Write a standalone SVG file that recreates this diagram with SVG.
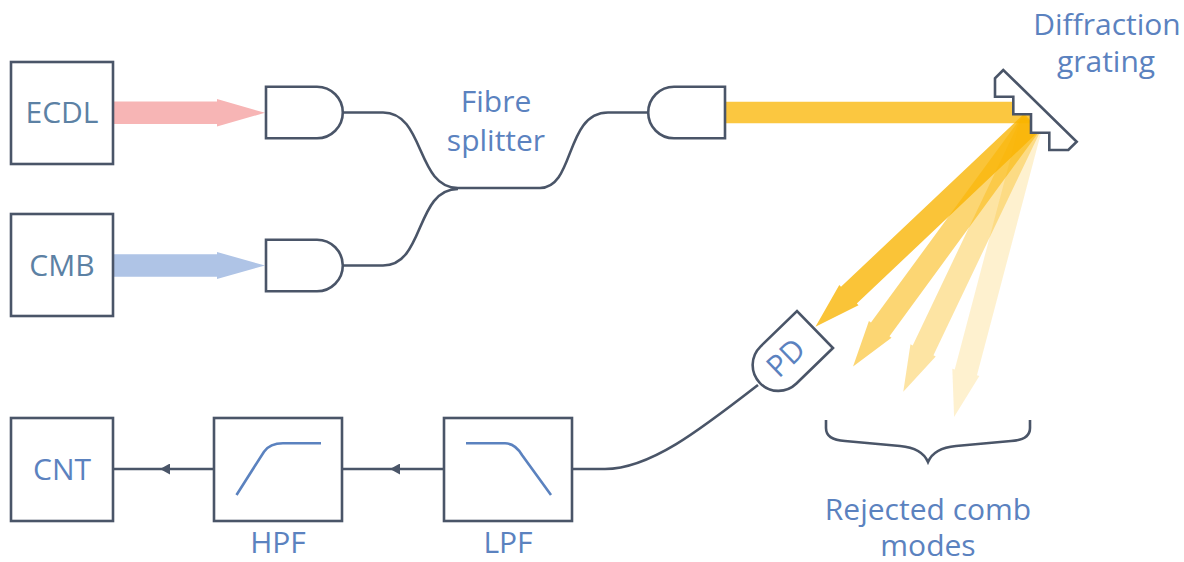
<svg xmlns="http://www.w3.org/2000/svg" xmlns:xlink="http://www.w3.org/1999/xlink" width="1184" height="562" viewBox="0 0 1184 562">
  <style>
    .box { fill: #ffffff; stroke: #4a5568; stroke-width: 2.6; }
    .wire { fill: none; stroke: #4a5568; stroke-width: 2.6; }
    .lbl { font-family: "Open Sans", "Liberation Sans", sans-serif; font-size: 30px; fill: #5b82bf; text-anchor: middle; }
    .src { fill: #5c81a4; }
    .resp { fill: none; stroke: #5b82bf; stroke-width: 2.6; }
    .beam { fill: #f9b400; }
  </style>
  <defs>
    <!-- fibre coupler / detector housing: flat face at x=0, rounded end at +x -->
    <path id="coupler" d="M0,-25.8 H51 A25.8,25.8 0 0 1 51,25.8 H0 Z"/>
    <marker id="tri" markerUnits="userSpaceOnUse" viewBox="0 0 10 11" markerWidth="10" markerHeight="11" refX="10" refY="5.5" orient="auto">
      <path d="M0,0 L10,5.5 L0,11 Z" fill="#4a5568"/>
    </marker>
  </defs>

  <rect width="1184" height="562" fill="#ffffff"/>

  <!-- free-space beams -->
  <g id="beams">
    <path id="beam-ecdl" d="M113,101.5 H217 V99 L265,112.8 L217,126.5 V124 H113 Z" fill="#f7b5b5"/>
    <path id="beam-cmb" d="M113,254.3 H217 V252 L265,265.5 L217,279 V276.7 H113 Z" fill="#afc4e6"/>
    <path id="beam-main" class="beam" opacity="0.75" d="M725,101.7 H1031 V123.3 H725 Z"/>
    <g transform="translate(1032,122)">
      <path class="beam" opacity="0.78" transform="rotate(136.6)" d="M0,-11.5 H252 V-14 L298,0 L252,14 V11.5 H0 Z"/>
      <path class="beam" opacity="0.55" transform="rotate(126.2)" d="M0,-11.5 H257 V-14 L303,0 L257,14 V11.5 H0 Z"/>
      <path class="beam" opacity="0.36" transform="rotate(115.5)" d="M0,-11.5 H253 V-14 L299,0 L253,14 V11.5 H0 Z"/>
      <path class="beam" opacity="0.19" transform="rotate(104.8)" d="M0,-11.5 H259 V-14 L305,0 L259,14 V11.5 H0 Z"/>
    </g>
  </g>

  <!-- connectors -->
  <g id="connectors">
    <path class="wire" d="M342,112.5 H383 C425,112.5 416,188 458,188 H540 C575,188 565,112.5 608,112.5 H648"/>
    <path class="wire" d="M342,265.5 H383 C425,265.5 415,189 458,189"/>
    <path class="wire" d="M572,469 H605 C650,469 700,430 758,385"/>
    <path class="wire" d="M444,469 L390,469 L342,469" marker-mid="url(#tri)"/>
    <path class="wire" d="M214,469 L160,469 L113,469" marker-mid="url(#tri)"/>
  </g>

  <!-- sources -->
  <g id="ecdl">
    <rect class="box" x="11" y="62" width="102" height="102"/>
    <text class="lbl src" x="62" y="123">ECDL</text>
  </g>
  <g id="cmb">
    <rect class="box" x="11" y="214" width="102" height="102"/>
    <text class="lbl src" x="62" y="276">CMB</text>
  </g>

  <!-- fibre couplers and splitter -->
  <g id="coupler-ecdl"><use xlink:href="#coupler" class="box" transform="translate(266,112.5)"/></g>
  <g id="coupler-cmb"><use xlink:href="#coupler" class="box" transform="translate(266,265.5)"/></g>
  <g id="coupler-out"><use xlink:href="#coupler" class="box" transform="translate(725,112.5) scale(-1,1)"/></g>
  <g id="splitter">
    <text class="lbl" x="496" y="112">Fibre</text>
    <text class="lbl" x="496" y="151">splitter</text>
  </g>

  <!-- diffraction grating -->
  <g id="grating">
    <path class="box" d="M1003.3,70 L995,78.3 V96.7 H1013.3 V114.3 H1031 V132.7 H1049.3 V150 H1068.3 L1076.7,141.7 Z"/>
    <text class="lbl" x="1107" y="35">Diffraction</text>
    <text class="lbl" x="1106" y="72">grating</text>
  </g>

  <!-- photodiode -->
  <g id="pd">
    <use xlink:href="#coupler" class="box" transform="translate(815,329.5) rotate(135.8)"/>
    <text class="lbl" transform="translate(786,358) rotate(-44.2)" y="10">PD</text>
  </g>

  <!-- rejected modes -->
  <g id="rejected">
    <path class="wire" d="M826,420 V428 Q826,440 845,441 L900,446 Q922,448 928,462 Q934,448 956,446 L1011,441 Q1030,440 1030,428 V420"/>
    <text class="lbl" x="928" y="520">Rejected comb</text>
    <text class="lbl" x="928" y="556">modes</text>
  </g>

  <!-- electronics -->
  <g id="lpf">
    <rect class="box" x="444" y="418" width="128" height="103"/>
    <path class="resp" d="M466,443.3 H505 Q515,443.3 522,455 L551,495"/>
    <text class="lbl" x="508" y="553">LPF</text>
  </g>
  <g id="hpf">
    <rect class="box" x="214" y="418" width="128" height="103"/>
    <path class="resp" d="M236.5,495 L264,451.7 Q270,443.3 283,443.3 H321"/>
    <text class="lbl" x="278" y="553">HPF</text>
  </g>
  <g id="cnt">
    <rect class="box" x="11" y="418" width="102" height="103"/>
    <text class="lbl" x="62" y="480">CNT</text>
  </g>
</svg>
